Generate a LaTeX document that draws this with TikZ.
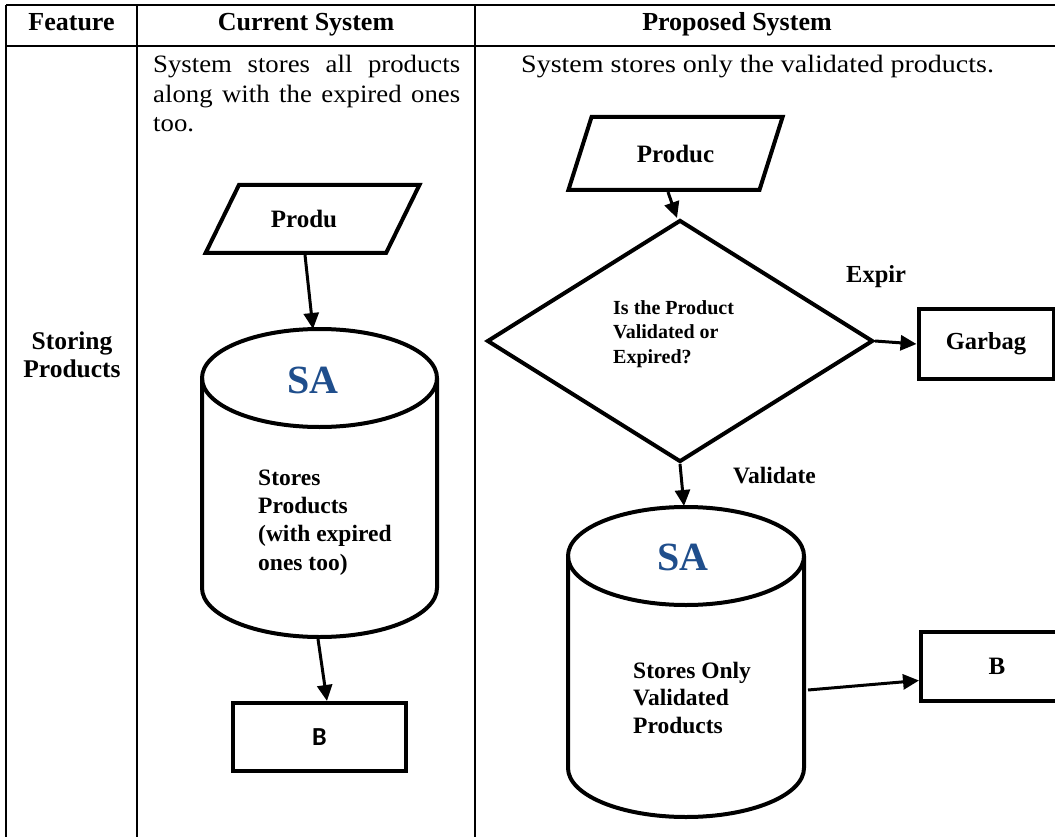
\documentclass[tikz,border=0pt]{standalone}
\usepackage{fontspec}
\setmainfont{Liberation Serif}
\newfontfamily\widefont{Liberation Serif}[FakeStretch=1.12]
\newfontfamily\cellfont{Liberation Serif}[FakeStretch=1.07]
\newfontfamily\calfont{Carlito}
\usetikzlibrary{shapes.geometric,arrows.meta}
\definecolor{sablue}{HTML}{1F4E8C}

\begin{document}
\begin{tikzpicture}[x=1pt,y=1pt,
  rule/.style={line width=2pt},
  shapeline/.style={draw=black, line width=4pt, fill=white},
  flow/.style={line width=3pt, -{Triangle[length=16pt,width=15pt]}},
  hdr/.style={font=\bfseries\fontsize{26}{29}\selectfont, inner sep=0pt, anchor=base},
  body/.style={font=\widefont\fontsize{25}{29.5}\selectfont, inner sep=0pt, anchor=base west, align=left},
  io/.style={trapezium, trapezium stretches=true, shapeline, minimum width=215pt,
    inner sep=0pt, font=\bfseries\fontsize{25}{29}\selectfont},
  procbox/.style={rectangle, shapeline, inner sep=0pt},
  dbtitle/.style={font=\bfseries\fontsize{40}{44}\selectfont, text=sablue, inner sep=0pt},
  dbtext/.style={font=\bfseries\fontsize{23.5}{28.3}\selectfont, inner sep=0pt, anchor=base west, align=left},
  flowlabel/.style={font=\bfseries\fontsize{24.5}{28}\selectfont, inner sep=0pt, anchor=base west}
]
\useasboundingbox (0,0) rectangle (1055,-837);
\fill[white] (0,0) rectangle (1055,-837);
\clip (0,0) rectangle (1055,-837);

% ---------- table grid ----------
\draw[rule] (6,-5) -- (1070,-5);
\draw[rule] (6,-46) -- (1070,-46);
\draw[rule] (6,-5) -- (6,-850);
\draw[rule] (137,-5) -- (137,-850);
\draw[rule] (475,-5) -- (475,-850);

% header row
\node[hdr] (hfeat) at (71.5,-31) {Feature};
\node[hdr] (hcur) at (306,-31) {Current System};
\node[hdr] (hprop) at (737,-31) {Proposed System};

% feature name (anchor base = last line)
\node[hdr, align=center, font=\bfseries\fontsize{25.5}{28}\selectfont] (feat) at (72,-377) {Storing\\Products};

% descriptions (anchor base = last line)
\node[body, font=\cellfont\fontsize{25}{29.5}\selectfont] (curdesc) at (153,-132)
  {\makebox[307pt][s]{System stores all products}\\
   \makebox[307pt][s]{along with the expired ones}\\
   too.};
\node[body] (propdesc) at (521,-73) {System stores only the validated products.};

% ---------- current system flow ----------
\node[io, trapezium left angle=57.7, trapezium right angle=122.3, minimum height=68pt]
  (in1) at (312.5,-219) {\hspace*{-17pt}Produ};

% storage cylinder
\draw[shapeline] (202,-378) -- (202,-588)
  arc[start angle=180, end angle=360, x radius=117.5, y radius=49]
  -- (437,-378)
  arc[start angle=0, end angle=180, x radius=117.5, y radius=49] -- cycle;
\draw[line width=4pt] (202,-378) arc[start angle=180, end angle=360, x radius=117.5, y radius=49];
\coordinate (db1in) at (313,-329);
\coordinate (db1out) at (318,-639);
\node[dbtitle] (sa1) at (313,-380) {SA};
\node[dbtext] (db1txt) at (258,-570) {Stores\\Products\\(with expired\\ones too)};

\node[procbox, minimum width=173pt, minimum height=68pt, font=\calfont\bfseries\fontsize{26}{30}\selectfont]
  (out1) at (319.5,-737) {B};

\draw[flow] ([xshift=-7.5pt]in1.south) -- (db1in);
\draw[flow] (db1out) -- ([xshift=7.5pt]out1.north);

% ---------- proposed system flow ----------
\node[io, trapezium left angle=58.9, trapezium right angle=121.1, minimum height=73pt]
  (in2) at (675.5,-153.5) {Produc};

\node[diamond, shapeline, minimum width=386pt, minimum height=242pt, aspect=1.6, inner sep=0pt]
  (dec) at (680,-341) {};
\node[anchor=base west, inner sep=0pt, align=left, font=\bfseries\fontsize{20}{24.5}\selectfont]
  (dectxt) at (613,-363) {Is the Product\\Validated or\\Expired?};

\node[procbox, minimum width=135pt, minimum height=70pt, font=\bfseries\fontsize{24.5}{28}\selectfont]
  (garb) at (986,-344) {Garbag};

% validated storage cylinder
\draw[shapeline] (568,-556) -- (568,-768)
  arc[start angle=180, end angle=360, x radius=118, y radius=49]
  -- (804,-556)
  arc[start angle=0, end angle=180, x radius=118, y radius=49] -- cycle;
\draw[line width=4pt] (568,-556) arc[start angle=180, end angle=360, x radius=118, y radius=49];
\coordinate (db2in) at (684,-506);
\coordinate (db2out) at (808,-690);
\node[dbtitle] (sa2) at (683,-557) {SA};
\node[dbtext, font=\bfseries\fontsize{23.5}{27.5}\selectfont] (db2txt) at (633,-733) {Stores Only\\Validated\\Products};

\node[procbox, minimum width=152pt, minimum height=69pt, font=\bfseries\fontsize{25}{29}\selectfont]
  (out2) at (997,-666.5) {B};

\draw[flow] ([xshift=-7.5pt]in2.south) -- ([xshift=-3pt]dec.north);
\draw[flow] (dec.east) -- (garb.west);
\draw[flow] (dec.south) -- (db2in);
\draw[flow] (db2out) -- ([yshift=-14pt]out2.west);

\node[flowlabel] (lexp) at (846,-283) {Expir};
\node[flowlabel, font=\bfseries\fontsize{23.5}{28}\selectfont] (lval) at (733,-483) {Validate};
\end{tikzpicture}
\end{document}
